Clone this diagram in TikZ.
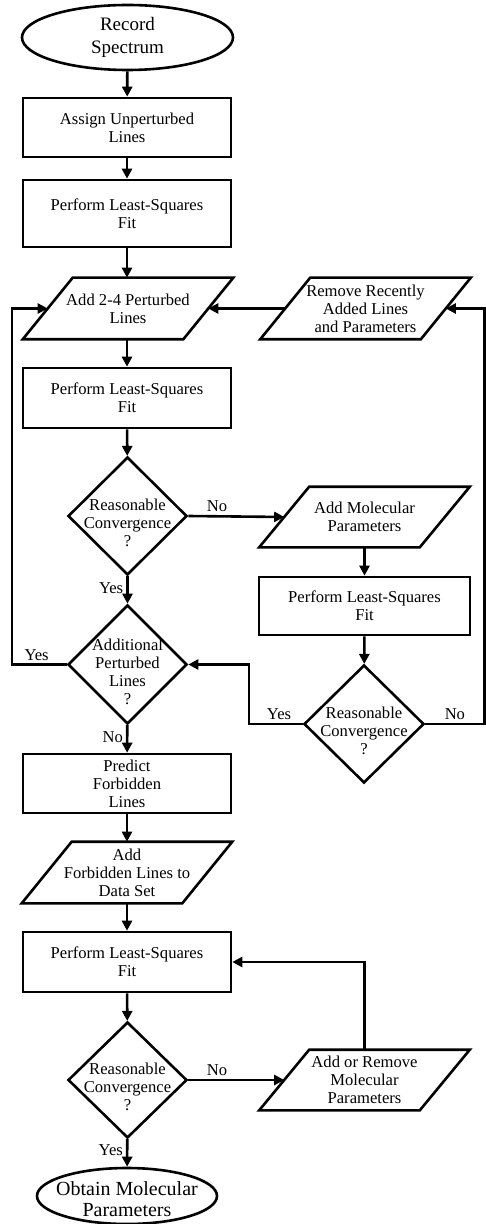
\documentclass[tikz,border=0pt]{standalone}
\usepackage{fontspec}
\setmainfont{Liberation Serif}
\usetikzlibrary{shapes.geometric,arrows.meta,calc}
\begin{document}
\begin{tikzpicture}[x=0.5pt,y=-0.5pt,
  line width=1.3pt,
  bodyfont/.style={font=\fontsize{8.3}{9}\selectfont},
  txt/.style={bodyfont, align=center, inner sep=0pt},
  procbox/.style={draw, rectangle, minimum width=104pt, minimum height=29.5pt, inner sep=0pt, bodyfont, align=center},
  para/.style={rectangle, minimum width=79pt, minimum height=29.5pt, inner sep=0pt, bodyfont, align=center},
  paraline/.style={draw, line join=miter},
  dec/.style={draw, diamond, minimum width=59.5pt, minimum height=59pt, inner sep=0pt},
  term/.style={draw, ellipse, inner sep=0pt},
  arr/.style={-{Triangle[length=5pt,width=5pt]}},
  lab/.style={bodyfont, inner sep=1.5pt}
]
\useasboundingbox (0,0) rectangle (486,1224);

% left column
\node[term, minimum width=105.5pt, minimum height=32.5pt] (e1) at (127.5,37.5) {};
\node[txt, font=\fontsize{9.5}{11.5}\selectfont] (e1t) at (e1) {Record\\Spectrum};
\node[procbox] (b1) at (127,127.5) {Assign Unperturbed\\Lines};
\node[procbox, minimum height=33.5pt] (b2) at (127,213.5) {Perform Least-Squares\\Fit};
\node[para] (p1) at (128,308.5) {Add 2-4 Perturbed\\Lines};
\node[procbox, minimum height=30pt] (b3) at (127,398) {Perform Least-Squares\\Fit};
\node[dec] (d1) at (127.5,516) {};
\node[txt] (d1t) at (127.5,523) {Reasonable\\Convergence\\?};
\node[dec, minimum height=59.5pt] (d2) at (127.5,664.5) {};
\node[txt] (d2t) at (127.5,672) {Additional\\Perturbed\\Lines\\?};
\node[procbox] (b4) at (127,783.5) {Predict\\Forbidden\\Lines};
\node[para] (p4) at (127,872.5) {Add\\Forbidden Lines to\\Data Set};
\node[procbox, minimum height=30pt] (b5) at (127,962) {Perform Least-Squares\\Fit};
\node[dec, minimum height=58pt] (d3) at (127.5,1080) {};
\node[txt] (d3t) at (127.5,1087) {Reasonable\\Convergence\\?};
\node[term, minimum width=90pt, minimum height=28pt] (e2) at (127,1196) {};
\node[txt, font=\fontsize{10}{10.5}\selectfont] (e2t) at (127,1199) {Obtain Molecular\\Parameters};

% right column
\node[para] (p2) at (365.5,308.5) {Remove Recently\\Added Lines\\and Parameters};
\node[para, minimum height=29pt] (p3) at (364.5,517) {Add Molecular\\Parameters};
\node[procbox, minimum width=105.5pt, minimum height=29pt] (r1) at (364.5,606) {Perform Least-Squares\\Fit};
\node[dec, minimum width=60pt] (d4) at (364,724) {};
\node[txt] (d4t) at (364,731) {Reasonable\\Convergence\\?};
\node[para, minimum height=29pt] (p5) at (364.5,1080) {Add or Remove\\Molecular\\Parameters};

% parallelogram outlines
\foreach \n in {p1,p2,p3,p4,p5}
  \draw[paraline] ($(\n.north west)+(25,0)$) -- ($(\n.north east)+(25,0)$)
     -- ($(\n.south east)+(-25,0)$) -- ($(\n.south west)+(-25,0)$) -- cycle;

% routing coordinates
\coordinate (lx) at (12,0);
\coordinate (mx) at (249,0);
\coordinate (rx) at (484.5,0);

% main flow
\draw[arr] (e1) -- (b1);
\draw[arr] (b1) -- (b2);
\draw[arr] (b2) -- (b2 |- p1.north);
\draw[arr] (p1.south -| b3) -- (b3);
\draw[arr] (b3) -- (d1);
\draw[arr] (d1) -- node[lab, left, pos=0.45] {Yes} (d2);
\draw[arr] (d2) -- node[lab, left, pos=0.45] {No} (b4);
\draw[arr] (b4) -- (b4 |- p4.north);
\draw[arr] (p4.south -| b5) -- (b5);
\draw[arr] (b5) -- (d3);
\draw[arr] (d3) -- node[lab, left, pos=0.4] {Yes} (e2);

% loops
\draw[arr] (d2.west) -- node[lab, above, pos=0.55] {Yes} (d2.west -| lx) |- (p1.west);
\draw[arr] (d1.east) -- node[lab, above, pos=0.3] {No} (p3.west);
\draw[arr] (p3.south -| r1) -- (r1);
\draw[arr] (r1) -- (d4);
\draw[arr] (d4.west) -- node[lab, above, pos=0.44] {Yes} (d4.west -| mx) |- (d2.east);
\draw[arr] (d4.east) -- node[lab, above, pos=0.5] {No} (d4.east -| rx) |- (p2.east);
\draw[arr] (p2.west) -- (p1.east);
\draw[arr] (d3.east) -- node[lab, above, pos=0.3] {No} (p5.west);
\draw[arr] (p5.north) |- (b5.east);
\end{tikzpicture}
\end{document}
